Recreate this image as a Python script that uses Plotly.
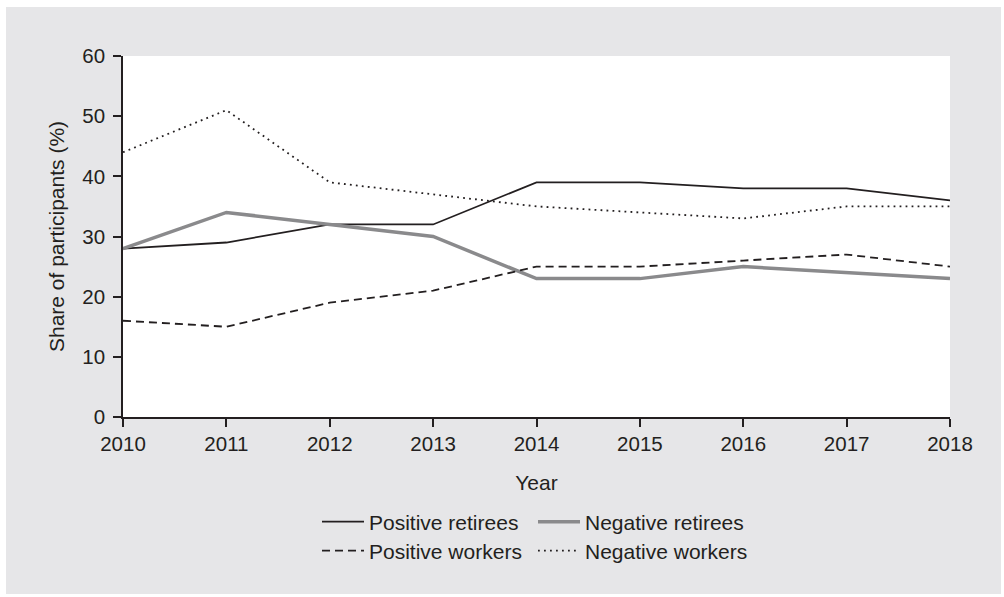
import plotly.graph_objects as go

years = [2010, 2011, 2012, 2013, 2014, 2015, 2016, 2017, 2018]
positive_retirees = [28, 29, 32, 32, 39, 39, 38, 38, 36]
negative_retirees = [28, 34, 32, 30, 23, 23, 25, 24, 23]
positive_workers = [16, 15, 19, 21, 25, 25, 26, 27, 25]
negative_workers = [44, 51, 39, 37, 35, 34, 33, 35, 35]
y_ticks = [0, 10, 20, 30, 40, 50, 60]

INK = "#231f20"
GRAY_LINE = "#8a8a8c"
PANEL = "#e6e6e8"
FONT = "Liberation Sans, Arial, Helvetica, sans-serif"

W, H = 1004, 597
L, R, T, B = 123, 54, 56, 180
pw, ph = W - L - R, H - T - B

def px_x(p):
    return (p - L) / pw

def px_y(p):
    return (H - B - p) / ph

fig = go.Figure()
fig.add_trace(go.Scatter(x=years, y=positive_retirees, mode="lines", name="Positive retirees",
                         line=dict(color=INK, width=1.8), legend="legend"))
fig.add_trace(go.Scatter(x=years, y=negative_retirees, mode="lines", name="Negative retirees",
                         line=dict(color=GRAY_LINE, width=3.5), legend="legend"))
fig.add_trace(go.Scatter(x=years, y=positive_workers, mode="lines", name="Positive workers",
                         line=dict(color=INK, width=1.8, dash="8px,5px"), legend="legend2"))
fig.add_trace(go.Scatter(x=years, y=negative_workers, mode="lines", name="Negative workers",
                         line=dict(color=INK, width=1.8, dash="1.8px,4.2px"), legend="legend2"))

legend_common = dict(orientation="h", xanchor="left", yanchor="middle",
                     x=px_x(317), itemwidth=42, entrywidth=159, entrywidthmode="pixels",
                     bgcolor="rgba(0,0,0,0)", font=dict(family=FONT, size=21, color=INK),
                     traceorder="normal")

fig.update_layout(
    width=W, height=H,
    margin=dict(l=L, r=R, t=T, b=B),
    paper_bgcolor="white",
    plot_bgcolor="white",
    font=dict(family=FONT, size=20, color=INK),
    showlegend=True,
    legend=dict(y=px_y(522), **legend_common),
    legend2=dict(y=px_y(551), **legend_common),
    xaxis=dict(range=[2010, 2018], tickmode="array", tickvals=years,
               ticktext=[str(y) for y in years],
               showline=True, linecolor=INK, linewidth=1.5, mirror=False,
               ticks="outside", ticklen=8, tickwidth=1.5, tickcolor=INK,
               showgrid=False, zeroline=False,
               tickfont=dict(size=20.5),
               title=dict(text="Year", font=dict(size=21), standoff=21)),
    yaxis=dict(range=[0, 60], tickmode="array", tickvals=y_ticks,
               showline=True, linecolor=INK, linewidth=1.5, mirror=False,
               ticks="outside", ticklen=8, tickwidth=1.5, tickcolor=INK,
               showgrid=False, zeroline=False, ticklabelstandoff=4,
               tickfont=dict(size=20.5),
               title=dict(text="Share of participants (%)", font=dict(size=21), standoff=12)),
    shapes=[
        dict(type="rect", xref="paper", yref="paper", layer="below",
             x0=px_x(6), x1=px_x(1001), y0=px_y(594), y1=px_y(7),
             fillcolor=PANEL, line=dict(width=0)),
        dict(type="rect", xref="paper", yref="paper", layer="below",
             x0=0, x1=1, y0=0, y1=1, fillcolor="white", line=dict(width=0)),
    ],
)

fig.write_html("out.html", config={"displayModeBar": False},
               post_script="document.body.style.margin='0';")
